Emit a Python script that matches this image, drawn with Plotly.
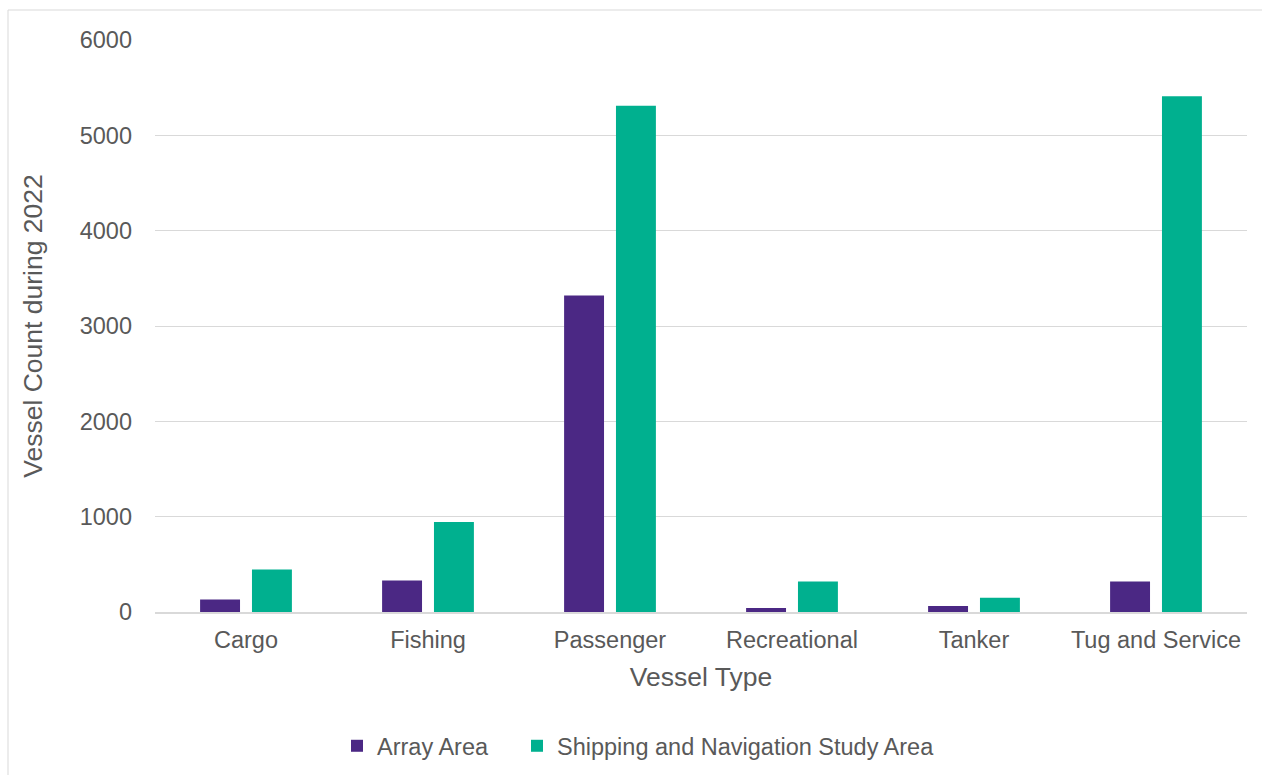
import plotly.graph_objects as go

categories = ["Cargo", "Fishing", "Passenger", "Recreational", "Tanker", "Tug and Service"]
array_area = [130, 330, 3320, 42, 63, 320]
study_area = [445, 945, 5310, 320, 150, 5410]

PURPLE = "#4b2884"
GREEN = "#00b08f"
TEXT = "#595959"
GRID = "#d9d9d9"
FONT = "Liberation Sans, Arial, sans-serif"

W, H = 1262, 775
L, R, T, B = 155, 15, 40, 163
pw, ph = W - L - R, H - T - B

fig = go.Figure()
fig.add_trace(go.Bar(name="Array Area", x=categories, y=array_area, legend="legend",
                     marker=dict(color=PURPLE, line=dict(width=0))))
fig.add_trace(go.Bar(name="Shipping and Navigation Study Area", x=categories, y=study_area,
                     legend="legend2", marker=dict(color=GREEN, line=dict(width=0))))

def px_x(p):
    return (p - L) / pw

def px_y(p):
    return (H - B - p) / ph

# outer chart frame
fig.add_shape(type="rect", xref="paper", yref="paper",
              x0=px_x(8), x1=px_x(1275), y0=px_y(10), y1=px_y(790),
              line=dict(color=GRID, width=1), fillcolor="rgba(0,0,0,0)", layer="below")

legend_style = dict(orientation="h", xref="container", yref="container", xanchor="left",
                    yanchor="middle", y=1 - 746 / H, font=dict(size=23.5, color=TEXT),
                    itemwidth=30, itemsizing="constant", bgcolor="rgba(0,0,0,0)")

fig.update_layout(
    width=W, height=H,
    margin=dict(l=L, r=R, t=T, b=B, autoexpand=False),
    paper_bgcolor="white", plot_bgcolor="white",
    barmode="group", bargap=0.43, bargroupgap=0.23,
    font=dict(family=FONT, color=TEXT, size=23.5),
    showlegend=True,
    legend=dict(x=337 / W, **legend_style),
    legend2=dict(x=517 / W, **legend_style),
    xaxis=dict(
        showgrid=False, showline=True, linecolor=GRID, linewidth=2, automargin=False,
        ticks="", tickfont=dict(size=23.5, color=TEXT), ticklabelstandoff=6,
        title=dict(text="Vessel Type", font=dict(size=26.5, color=TEXT), standoff=15),
    ),
    yaxis=dict(
        range=[0, 6000], tickvals=[0, 1000, 2000, 3000, 4000, 5000, 6000],
        showgrid=True, gridcolor=GRID, gridwidth=1, zeroline=False, showline=False,
        automargin=False,
        ticks="", tickfont=dict(size=23.5, color=TEXT), ticklabelstandoff=22,
        title=dict(text="Vessel Count during 2022", font=dict(size=26.5, color=TEXT), standoff=29),
    ),
)

fig.write_html("out.html")
